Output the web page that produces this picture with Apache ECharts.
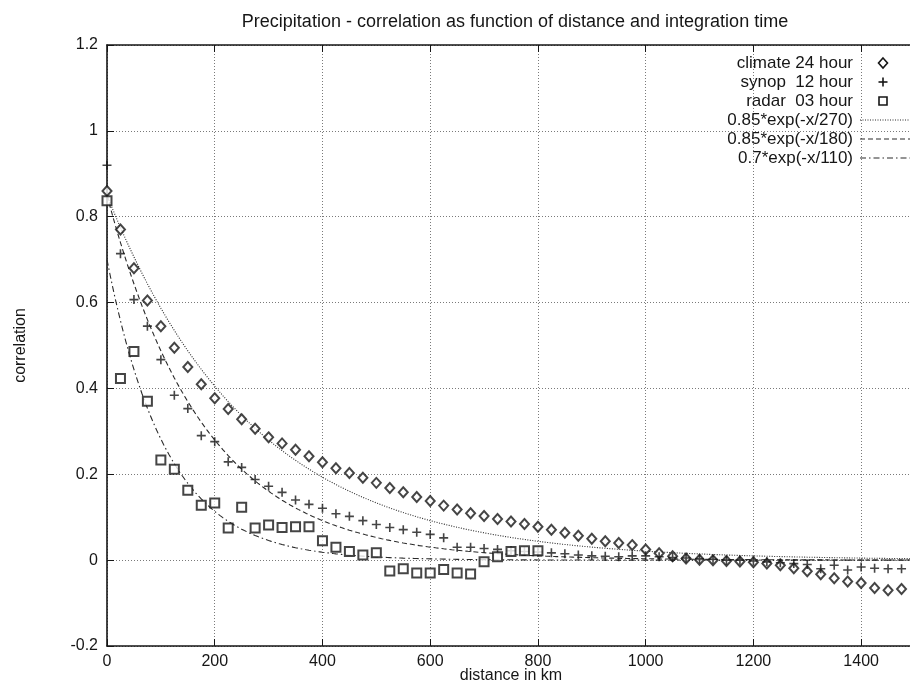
<!DOCTYPE html>
<html>
<head>
<meta charset="utf-8">
<script src="https://cdn.jsdelivr.net/npm/echarts@6/dist/echarts.min.js"></script>
<style>
  html, body { margin: 0; padding: 0; background: #fff; }
  #chart { width: 910px; height: 684px; }
</style>
</head>
<body>
<div id="chart"></div>
<script>
// Station-pair correlations, binned every 25 km
const climateKm = [0,25,50,75,100,125,150,175,200,225,250,275,300,325,350,375,400,425,450,475,
  500,525,550,575,600,625,650,675,700,725,750,775,800,825,850,875,900,925,950,975,
  1000,1025,1050,1075,1100,1125,1150,1175,1200,1225,1250,1275,1300,1325,1350,1375,1400,1425,1450,1475];
const climateCorr = [0.86,0.77,0.68,0.605,0.545,0.495,0.45,0.41,0.377,0.352,0.328,0.306,0.286,0.272,0.257,0.242,
  0.228,0.214,0.203,0.192,0.18,0.168,0.158,0.147,0.138,0.127,0.118,0.109,0.103,0.096,0.09,0.084,
  0.078,0.071,0.064,0.057,0.05,0.044,0.04,0.035,0.025,0.016,0.009,0.004,0.001,0.0,-0.002,-0.003,
  -0.005,-0.008,-0.012,-0.019,-0.026,-0.033,-0.042,-0.05,-0.053,-0.065,-0.07,-0.067];

const synopKm = [0,25,50,75,100,125,150,175,200,225,250,275,300,325,350,375,400,425,450,475,
  500,525,550,575,600,625,650,675,700,725,750,775,800,825,850,875,900,925,950,975,
  1000,1025,1050,1075,1100,1125,1150,1175,1200,1225,1250,1275,1300,1325,1350,1375,1400,1425,1450,1475];
const synopCorr = [0.92,0.714,0.607,0.545,0.467,0.384,0.353,0.29,0.276,0.229,0.216,0.188,0.172,0.158,0.14,0.13,
  0.121,0.108,0.102,0.092,0.083,0.076,0.071,0.065,0.06,0.052,0.03,0.03,0.027,0.025,0.022,0.02,
  0.019,0.017,0.015,0.012,0.01,0.009,0.008,0.01,0.01,0.008,0.006,0.005,0.003,0.002,0.0,0.0,
  -0.002,-0.004,-0.006,-0.008,-0.01,-0.02,-0.012,-0.023,-0.016,-0.019,-0.02,-0.02];

const radarKm = [0,25,50,75,100,125,150,175,200,225,250,275,300,325,350,375,400,425,450,475,
  500,525,550,575,600,625,650,675,700,725,750,775,800];
const radarCorr = [0.837,0.423,0.486,0.37,0.233,0.212,0.163,0.128,0.133,0.075,0.123,0.075,0.082,0.076,0.078,0.078,
  0.045,0.03,0.02,0.012,0.017,-0.025,-0.02,-0.03,-0.03,-0.022,-0.03,-0.032,-0.004,0.008,0.02,0.022,0.022];

// Fitted exponential decay models: amp * exp(-x / scale)
const fitNames = ['0.85*exp(-x/270)', '0.85*exp(-x/180)', '0.7*exp(-x/110)'];
const fitAmp = [0.85, 0.85, 0.7];
const fitScale = [270, 180, 110];

const pointNames = ['climate 24 hour', 'synop  12 hour', 'radar  03 hour'];

const FONT = 'Liberation Sans, Arial, Helvetica, sans-serif';
const INK = '#161616';

function pairs(xs, ys) { return xs.map((x, i) => [x, ys[i]]); }

function fitCurve(k) {
  const pts = [];
  for (let x = 0; x <= 1500; x += 5) pts.push([x, fitAmp[k] * Math.exp(-x / fitScale[k])]);
  return pts;
}

const dashStyles = [[1, 1.5], [5, 3], [6, 3, 1.5, 3]];
const plusPath = 'path://M4.1,0H5.9V10H4.1Z M0,4.1H10V5.9H0Z';

const seriesList = [];
fitNames.forEach((name, k) => {
  seriesList.push({
    name: name, type: 'line', data: fitCurve(k), symbol: 'none', showSymbol: false,
    lineStyle: { color: '#2a2a2a', width: 1.1, type: dashStyles[k] },
    z: 2, silent: true
  });
});
seriesList.push({
  name: pointNames[0], type: 'scatter', data: pairs(climateKm, climateCorr),
  symbol: 'emptyDiamond', symbolSize: [9, 10],
  itemStyle: { color: INK, borderColor: INK, borderWidth: 1.7 }, z: 5
});
seriesList.push({
  name: pointNames[1], type: 'scatter', data: pairs(synopKm, synopCorr),
  symbol: plusPath, symbolSize: 9,
  itemStyle: { color: INK }, z: 5
});
seriesList.push({
  name: pointNames[2], type: 'scatter', data: pairs(radarKm, radarCorr),
  symbol: 'emptyRect', symbolSize: 9,
  itemStyle: { color: INK, borderColor: INK, borderWidth: 1.7 }, z: 5
});

// Key in the top-right corner: labels right-aligned, sample marks to their right
const keyTextRight = 853, keyTop = 63, keyStep = 19, keyMarkX = 883;
const keyItems = [];
pointNames.concat(fitNames).forEach((name, i) => {
  const y = keyTop + i * keyStep;
  keyItems.push({
    type: 'text', x: keyTextRight, y: y, z: 10,
    style: { text: name, fill: INK, font: '17px ' + FONT, textAlign: 'right', textVerticalAlign: 'middle' }
  });
  if (i === 0) {
    keyItems.push({ type: 'polygon', z: 10, shape: { points: [[keyMarkX, y - 5], [keyMarkX + 4.5, y], [keyMarkX, y + 5], [keyMarkX - 4.5, y]] },
      style: { fill: '#fff', stroke: INK, lineWidth: 1.6 } });
  } else if (i === 1) {
    keyItems.push({ type: 'rect', z: 10, shape: { x: keyMarkX - 0.8, y: y - 4.5, width: 1.6, height: 9 }, style: { fill: INK } });
    keyItems.push({ type: 'rect', z: 10, shape: { x: keyMarkX - 4.5, y: y - 0.8, width: 9, height: 1.6 }, style: { fill: INK } });
  } else if (i === 2) {
    keyItems.push({ type: 'rect', z: 10, shape: { x: keyMarkX - 4, y: y - 4, width: 8, height: 8 },
      style: { fill: '#fff', stroke: INK, lineWidth: 1.6 } });
  } else {
    keyItems.push({ type: 'line', z: 10, shape: { x1: 860, y1: y, x2: 912, y2: y },
      style: { stroke: '#2a2a2a', lineWidth: 1.1, lineDash: dashStyles[i - 3] } });
  }
});

const chart = echarts.init(document.getElementById('chart'), null, { renderer: 'canvas' });
chart.setOption({
  animation: false,
  backgroundColor: '#fff',
  title: {
    text: 'Precipitation - correlation as function of distance and integration time',
    left: 510, top: 8, textAlign: 'center',
    textStyle: { fontFamily: FONT, fontSize: 18, fontWeight: 'normal', color: INK }
  },
  graphic: keyItems,
  grid: { left: 107, right: -5, top: 45, bottom: 38, containLabel: false, outerBoundsMode: 'none' },
  xAxis: [{
    type: 'value', min: 0, max: 1500, interval: 200, position: 'bottom',
    name: 'distance in km', nameLocation: 'middle', nameGap: 22, nameMoveOverlap: false,
    nameTextStyle: { fontFamily: FONT, fontSize: 16, color: INK },
    axisLine: { show: true, onZero: false, lineStyle: { color: INK, width: 1.6 } },
    axisTick: { show: true, inside: true, length: 7, lineStyle: { color: INK, width: 1 } },
    axisLabel: { showMaxLabel: false, margin: 8, fontFamily: FONT, fontSize: 16, color: INK,
      formatter: v => String(v) },
    splitLine: { show: true, lineStyle: { color: '#7a7a7a', width: 1, type: [1, 2] } }
  }, {
    type: 'value', min: 0, max: 1500, interval: 200, position: 'top',
    axisLine: { show: true, onZero: false, lineStyle: { color: INK, width: 1.6 } },
    axisTick: { show: true, inside: true, length: 7, lineStyle: { color: INK, width: 1 } },
    axisLabel: { show: false },
    splitLine: { show: false }
  }],
  yAxis: {
    type: 'value', min: -0.2, max: 1.2, interval: 0.2,
    name: 'correlation', nameLocation: 'middle', nameGap: 78, nameRotate: 90, nameMoveOverlap: false,
    nameTextStyle: { fontFamily: FONT, fontSize: 16, color: INK },
    axisLine: { show: true, onZero: false, lineStyle: { color: INK, width: 1.6 } },
    axisTick: { show: true, inside: true, length: 7, lineStyle: { color: INK, width: 1 } },
    axisLabel: { margin: 9, fontFamily: FONT, fontSize: 16, color: INK,
      formatter: v => String(Math.round(v * 10) / 10) },
    splitLine: { show: true, lineStyle: { color: '#7a7a7a', width: 1, type: [1, 2] } }
  },
  series: seriesList
});
</script>
</body>
</html>
